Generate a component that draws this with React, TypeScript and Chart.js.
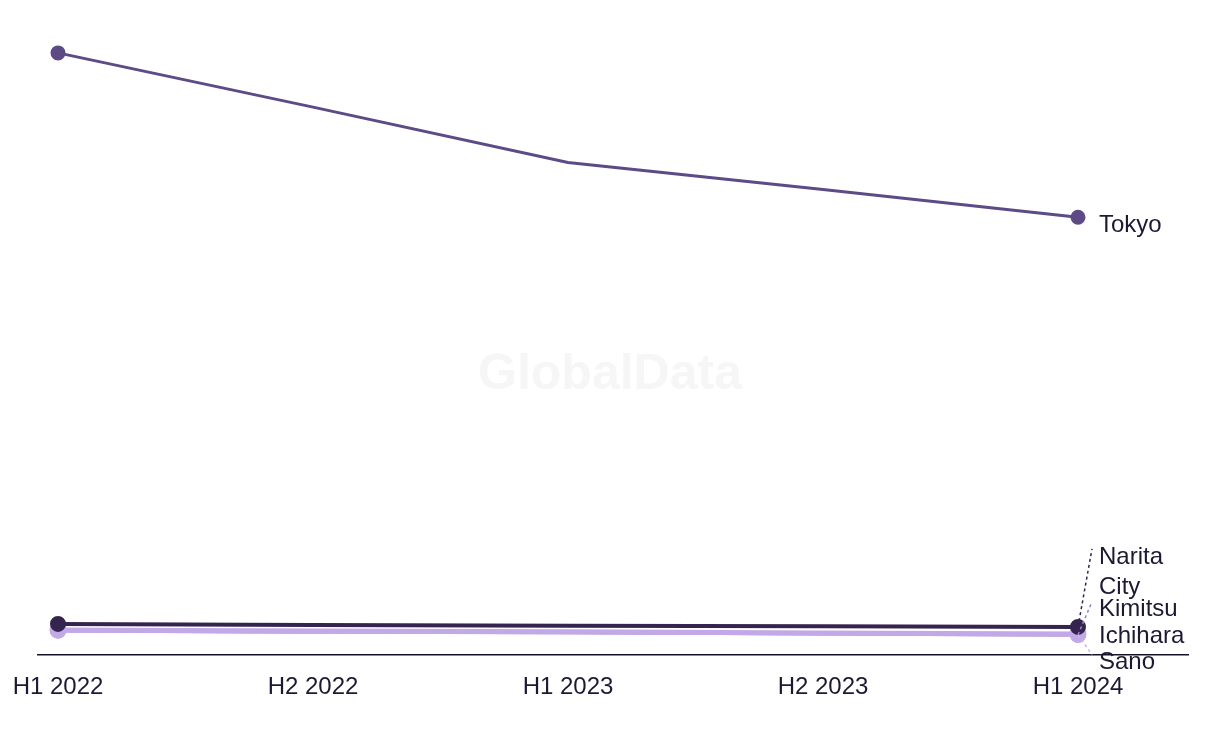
import React, { useEffect, useRef } from "react";
import { Chart, registerables } from "chart.js";

Chart.register(...registerables);

const periods = ["H1 2022", "H2 2022", "H1 2023", "H2 2023", "H1 2024"];
const seriesNames = ["Tokyo", "Narita City", "Kimitsu", "Ichihara", "Sano"];
const tokyo = [1000, 910, 818, 773, 727];
const naritaCity = [52, 50, 49, 48, 47];
const kimitsu = [41, 39, 38, 36, 34];
const ichihara = [42, 40, 39, 37, 35];
const sano = [41, 39, 38, 36, 34];

const FONT = "'Liberation Sans', Arial, sans-serif";
const TEXT = "#1c1a33";

const styles = [
  { color: "#5d4a86", width: 3, order: 5, dy: 8, lines: ["Tokyo"] },
  { color: "#35244f", width: 4, order: 1, dy: -70, lines: ["Narita", "City"] },
  { color: "#9a85c6", width: 4, order: 4, dy: -25, lines: ["Kimitsu"] },
  { color: "#c2a8e6", width: 5, order: 2, dy: 2, lines: ["Ichihara"] },
  { color: "#c9b8e8", width: 4, order: 3, dy: 28, lines: ["Sano"] },
];

const values = [tokyo, naritaCity, kimitsu, ichihara, sano];

const endLabels = {
  id: "endLabels",
  beforeDraw(chart: any) {
    const ctx = chart.ctx;
    ctx.save();
    ctx.font = `bold 50px ${FONT}`;
    ctx.fillStyle = "#f6f6f6";
    ctx.textAlign = "center";
    ctx.textBaseline = "middle";
    ctx.fillText("GlobalData", chart.width / 2, chart.height / 2 + 3);
    ctx.restore();
  },
  afterDatasetsDraw(chart: any) {
    const ctx = chart.ctx;
    ctx.save();
    chart.data.datasets.forEach((ds: any, i: number) => {
      const meta = chart.getDatasetMeta(i);
      const pt = meta.data[meta.data.length - 1];
      const st = styles[i];
      const ly = pt.y + st.dy;
      if (Math.abs(st.dy) > 10) {
        ctx.beginPath();
        ctx.setLineDash([3, 3]);
        ctx.strokeStyle = st.color;
        ctx.lineWidth = 1.5;
        ctx.moveTo(pt.x, pt.y);
        ctx.lineTo(pt.x + 14, ly - 8);
        ctx.stroke();
      }
    });
    ctx.setLineDash([]);
    ctx.font = `24px ${FONT}`;
    ctx.fillStyle = TEXT;
    ctx.textAlign = "left";
    ctx.textBaseline = "middle";
    chart.data.datasets.forEach((ds: any, i: number) => {
      const meta = chart.getDatasetMeta(i);
      const pt = meta.data[meta.data.length - 1];
      const st = styles[i];
      st.lines.forEach((t, k) => {
        ctx.fillText(t, pt.x + 21, pt.y + st.dy + k * 30);
      });
    });
    ctx.restore();
  },
};

export default function App() {
  const ref = useRef<HTMLCanvasElement>(null);
  useEffect(() => {
    document.body.style.margin = "0";
    const datasets = seriesNames.map((name, i) => {
      const st = styles[i];
      const n = values[i].length;
      return {
        label: name,
        data: values[i].map((v, j) => ({ x: j, y: v })),
        borderColor: st.color,
        backgroundColor: st.color,
        borderWidth: st.width,
        pointRadius: values[i].map((_, j) => (j === 0 || j === n - 1 ? 6 : 0)),
        pointHoverRadius: 0,
        order: st.order,
        tension: 0,
      };
    });
    const chart = new Chart(ref.current!, {
      type: "line",
      data: { datasets },
      plugins: [endLabels],
      options: {
        animation: false,
        responsive: false,
        maintainAspectRatio: false,
        layout: { padding: { left: 38, right: 32, top: 30, bottom: 24 } },
        plugins: { legend: { display: false }, tooltip: { enabled: false } },
        scales: {
          x: {
            type: "linear",
            min: -20 / 255,
            max: 4 + 110 / 255,
            grid: { display: false, drawTicks: false, tickLength: 0 },
            border: { display: true, color: "#15132a", width: 1.5 },
            afterBuildTicks: (scale: any) => {
              scale.ticks = periods.map((_, i) => ({ value: i }));
            },
            afterFit: (scale: any) => {
              scale.paddingLeft = 0;
              scale.paddingRight = 0;
            },
            ticks: {
              padding: 18,
              color: TEXT,
              font: { family: FONT, size: 24 },
              maxRotation: 0,
              autoSkip: false,
              callback: (v: any) => periods[v] ?? "",
            },
          },
          y: {
            display: false,
            min: 0,
            max: 1038,
          },
        },
      },
    });
    return () => chart.destroy();
  }, []);
  return (
    <div style={{ width: 1220, height: 744 }}>
      <canvas ref={ref} width={1220} height={744} style={{ display: "block" }} />
    </div>
  );
}
